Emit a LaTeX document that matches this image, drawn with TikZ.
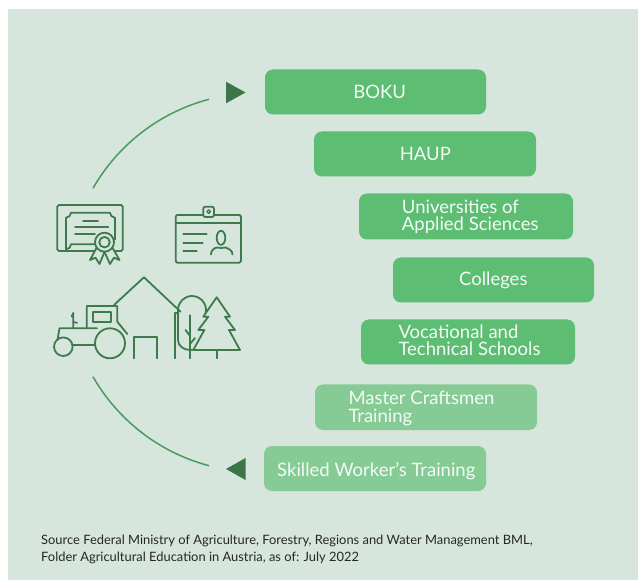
\documentclass[tikz,border=0pt]{standalone}
\usepackage{fontspec}
\setmainfont{Lato}
\begin{document}
\definecolor{bgmint}{HTML}{D6E6DC}
\definecolor{boxdark}{HTML}{5CBD73}
\definecolor{boxlight}{HTML}{86CA96}
\definecolor{tridark}{HTML}{3B7548}
\definecolor{arcgreen}{HTML}{4B9A60}
\definecolor{iconline}{HTML}{3E7A4C}
\definecolor{boxtext}{HTML}{F4FAF4}
\definecolor{srctext}{HTML}{262626}
\begin{tikzpicture}[x=1pt,y=-1pt,
  pathbox/.style={rounded corners=8pt, draw=none, inner sep=0pt},
  darkbox/.style={pathbox, fill=boxdark},
  lightbox/.style={pathbox, fill=boxlight},
  boxlabel/.style={inner sep=0pt, text=boxtext, font=\fontsize{18.5}{17.7}\selectfont},
  tri/.style={fill=tridark},
  arcline/.style={draw=arcgreen, line width=1.5pt},
  icon/.style={draw=iconline, line width=1.8pt, line cap=round, line join=round},
  srclabel/.style={inner sep=0pt, anchor=base west, text=srctext, font=\fontsize{12.9}{17}\selectfont}]
\useasboundingbox (0,0) rectangle (638,580);
\fill[bgmint] (8,9) rectangle (638,580);

% ---------- pathway boxes ----------
\fill[darkbox]  (265,69.5)  rectangle (486,114.5);
\fill[darkbox]  (314,131.5) rectangle (536,176.5);
\fill[darkbox]  (359,193.5) rectangle (573,239.5);
\fill[darkbox]  (393,257.5) rectangle (594,302.5);
\fill[darkbox]  (361,319.5) rectangle (575,364.5);
\fill[lightbox] (315,384.5) rectangle (537,430);
\fill[lightbox] (264,446)   rectangle (486,491);

\node[boxlabel, anchor=base] (boku)     at (379.7,98.3) {BOKU};
\node[boxlabel, anchor=base] (haup)     at (425.3,161)  {HAUP};
\node[boxlabel, anchor=base west] (uas) at (401.7,213.3)
  {\vtop{\hbox{Universities of}\hbox{Applied Sciences}}};
\node[boxlabel, anchor=base] (colleges) at (493.3,286)  {Colleges};
\node[boxlabel, anchor=base west] (voc) at (398.3,338.3)
  {\vtop{\hbox{Vocational and}\hbox{Technical Schools}}};
\node[boxlabel, anchor=base west] (master) at (348.3,405)
  {\vtop{\hbox{Master Craftsmen}\hbox{Training}}};
\node[boxlabel, anchor=base] (skilled)  at (376.3,476)  {Skilled Worker’s Training};

% ---------- cycle arcs and triangles ----------
\coordinate (hub) at (257.4,282.5);
\draw[arcline] (hub) ++(-150.2:189.5) arc[start angle=-150.2, end angle=-104.8, radius=189.5];
\draw[arcline] (hub) ++(150.2:189.5) arc[start angle=150.2, end angle=104.8, radius=189.5];
\fill[tri] (226,81.7) -- (245.5,92.5) -- (226,103.3) -- cycle;
\fill[tri] (245.5,458) -- (226,469) -- (245.5,480) -- cycle;

% ---------- certificate ----------
\draw[icon, rounded corners=1.5pt] (57.3,205) rectangle (122.7,251);
\draw[icon] (71,212.7) -- (110,212.7) arc[start angle=180, end angle=90, radius=5]
  -- (115,239.3) arc[start angle=-90, end angle=-180, radius=5]
  -- (71,244.3) arc[start angle=0, end angle=90, radius=5]
  -- (66,217.7) arc[start angle=90, end angle=0, radius=5];
\draw[icon] (83,220.7) -- (98,220.7);
\draw[icon] (75,227.3) -- (108.3,227.3);
\draw[icon] (75,234)   -- (95,234);
\filldraw[icon, fill=bgmint] (97,247) -- (90,260) -- (95.5,257.7) -- (99.5,264) -- (104.5,252) -- cycle;
\filldraw[icon, fill=bgmint] (112,247) -- (119.5,260) -- (114,257.7) -- (110,264) -- (104.5,252) -- cycle;
\filldraw[icon, fill=bgmint] (104.5,242.2) circle[radius=9.5];
\draw[icon] (104.5,242.2) circle[radius=5.3];

% ---------- ID badge ----------
\draw[icon, rounded corners=1.5pt] (175.7,215) rectangle (241,262.7);
\draw[icon] (175.7,223.3) -- (241,223.3);
\filldraw[icon, fill=bgmint, rounded corners=2pt] (203.3,206.7) rectangle (214,217);
\draw[icon, line width=1.3pt] (208.7,211.6) circle[radius=1.8];
\draw[icon] (183.3,234.3) -- (206.7,234.3);
\draw[icon] (183.3,242.7) -- (202.7,242.7);
\draw[icon] (183.3,251)   -- (196.7,251);
\draw[icon] (221,237.8) ellipse[x radius=4.3, y radius=7];
\draw[icon] (211,254.5) to[out=90,in=200] (216.5,247.5)
  to[out=-10,in=190] (225.5,247.5) to[out=-20,in=90] (232.5,254.5);

% ---------- tractor ----------
\draw[icon] (63.3,346.7) circle[radius=9.3];
\draw[icon] (110,343.3) circle[radius=15];
\draw[icon] (72.7,345) -- (95,345);
\draw[icon] (57.5,340) -- (59.5,328.3) -- (97,328.3);
\draw[icon] (86.7,328.3) -- (86.7,306) -- (117.3,306) -- (117.3,321.7) -- (127.3,334);
\draw[icon] (92.7,311.7) rectangle (111,321.7);
\draw[icon] (73.3,328.3) -- (73.3,313) -- (71.5,316.5);
\draw[icon] (73.3,322) -- (77,322.8);

% ---------- house ----------
\draw[icon] (114,305) -- (144,277.3) -- (180.5,311.7);
\draw[icon] (175,358.3) -- (175,313.3) -- (178,313.3);
\draw[icon] (134.3,358.3) -- (134.3,336.7) -- (156.7,336.7) -- (156.7,358.3);

% ---------- deciduous tree ----------
\draw[icon] (178,310) arc[start angle=180, end angle=385, radius=14];
\draw[icon] (178,310) -- (178,340) to[out=-90,in=180] (190,350) -- (200,349);
\draw[icon] (190,315.3) -- (190,358.3);
\draw[icon] (190,336) -- (185.5,330);
\draw[icon] (190,344) -- (195,338);

% ---------- fir tree ----------
\filldraw[icon, fill=bgmint] (216.7,297.3) -- (230,316.7) -- (225,316.7) -- (235,330)
  -- (229,330) -- (240,350) -- (193.3,350) -- (204.3,330) -- (198.3,330)
  -- (208.3,316.7) -- (203.3,316.7) -- cycle;
\draw[icon] (216.7,350) -- (216.7,358.3);

% ---------- source note ----------
\node[srclabel] (src1) at (41,544)
  {Source Federal Ministry of Agriculture, Forestry, Regions and Water Management BML,};
\node[srclabel] (src2) at (41,561)
  {Folder Agricultural Education in Austria, as of: July 2022};
\end{tikzpicture}
\end{document}
